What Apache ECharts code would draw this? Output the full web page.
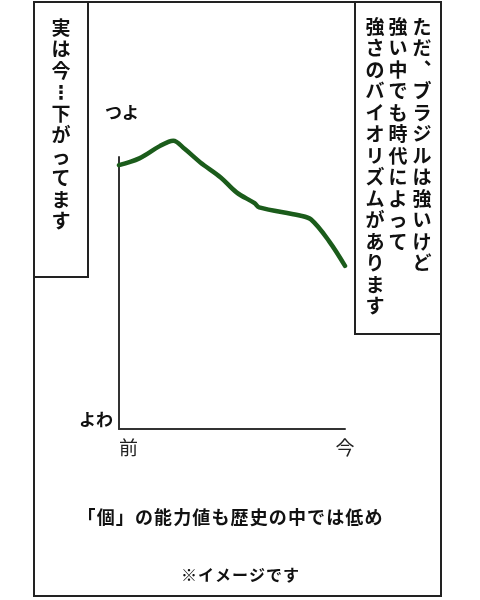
<!DOCTYPE html>
<html>
<head>
<meta charset="utf-8">
<script src="https://cdn.jsdelivr.net/npm/echarts@6/dist/echarts.min.js"></script>
<style>
  html, body { margin: 0; background: #fff; }
  #chart { width: 480px; height: 600px; }
</style>
</head>
<body>
<div id="chart"></div>
<script>
// rough reading of the hand drawn curve (0 = よわ, 100 = top of axis)
const timeline = [0, 9, 18, 24, 29, 36, 45, 52, 60, 62, 80, 85, 93, 100];
const strength = [97, 99.5, 104, 106, 103, 98, 92.5, 87, 83, 81.5, 78.5, 77, 69, 60];
const xTickLabels = ['前', '今'];
const yTickLabels = ['よわ', 'つよ'];

const leftNote = '実は今⋮下がってます';
const rightNote = ['ただ︑ブラジルは強いけど', '強い中でも時代によって', '強さのバイオリズムがあります'];
const caption = '「個」の能力値も歴史の中では低め';
const footnote = '※イメージです';

const jp = '"Noto Sans CJK JP", "DejaVu Sans"';
const vert = s => Array.from(s).join('\n');

const chart = echarts.init(document.getElementById('chart'));

function noteText(x, y, s) {
  return {
    type: 'text', x: x, y: y,
    style: {
      text: vert(s), font: 'bold 19px ' + jp, lineHeight: 21.5,
      textAlign: 'center', textVerticalAlign: 'top', fill: '#111'
    }
  };
}

function frame(x1, y1, x2, y2) {
  return {
    type: 'rect', shape: { x: x1, y: y1, width: x2 - x1, height: y2 - y1 },
    style: { fill: null, stroke: '#222', lineWidth: 2 }
  };
}

const option = {
  backgroundColor: '#fff',
  animation: false,
  grid: { left: 119, right: 135, top: 157, bottom: 171 },
  xAxis: {
    type: 'value', min: 0, max: 100, interval: 100,
    axisLine: { lineStyle: { color: '#333', width: 2 } },
    axisTick: { show: false },
    splitLine: { show: false },
    axisLabel: {
      margin: 9, alignMinLabel: 'left',
      fontFamily: jp, fontSize: 19, color: '#222',
      formatter: v => xTickLabels[v === 0 ? 0 : 1]
    }
  },
  yAxis: {
    type: 'value', min: 0, max: 100, interval: 100,
    name: yTickLabels[1],
    nameLocation: 'end', nameGap: 36,
    nameTextStyle: { fontFamily: jp, fontSize: 17, fontWeight: 'bold', color: '#111', align: 'left', padding: [0, 0, 0, -14] },
    axisLine: { show: true, lineStyle: { color: '#333', width: 2 } },
    axisTick: { show: false },
    splitLine: { show: false },
    axisLabel: {
      margin: 6, fontFamily: jp, fontSize: 17, fontWeight: 'bold', color: '#111',
      formatter: v => v === 0 ? yTickLabels[0] : '',
      verticalAlign: 'bottom', lineHeight: 18
    }
  },
  series: [{
    type: 'line',
    data: timeline.map((t, i) => [t, strength[i]]),
    smooth: 0.35,
    clip: false,
    showSymbol: false,
    lineStyle: { color: '#1b5c1b', width: 4.5, cap: 'round', join: 'round' }
  }],
  graphic: [
    frame(34, 2, 441, 596),
    frame(34, 2, 88, 277),
    frame(355, 2, 441, 334),
    noteText(61, 17, leftNote),
    noteText(422, 16, rightNote[0]),
    noteText(398, 16, rightNote[1]),
    noteText(375, 16, rightNote[2]),
    {
      type: 'text', x: 230, y: 517,
      style: {
        text: Array.from(caption).join('\u200a'), font: 'bold 18px ' + jp,
        textAlign: 'center', textVerticalAlign: 'middle', fill: '#111'
      }
    },
    {
      type: 'text', x: 240, y: 575,
      style: {
        text: Array.from(footnote).join('\u200a'), font: 'bold 16px ' + jp,
        textAlign: 'center', textVerticalAlign: 'middle', fill: '#111'
      }
    }
  ]
};

chart.setOption(option);
</script>
</body>
</html>
